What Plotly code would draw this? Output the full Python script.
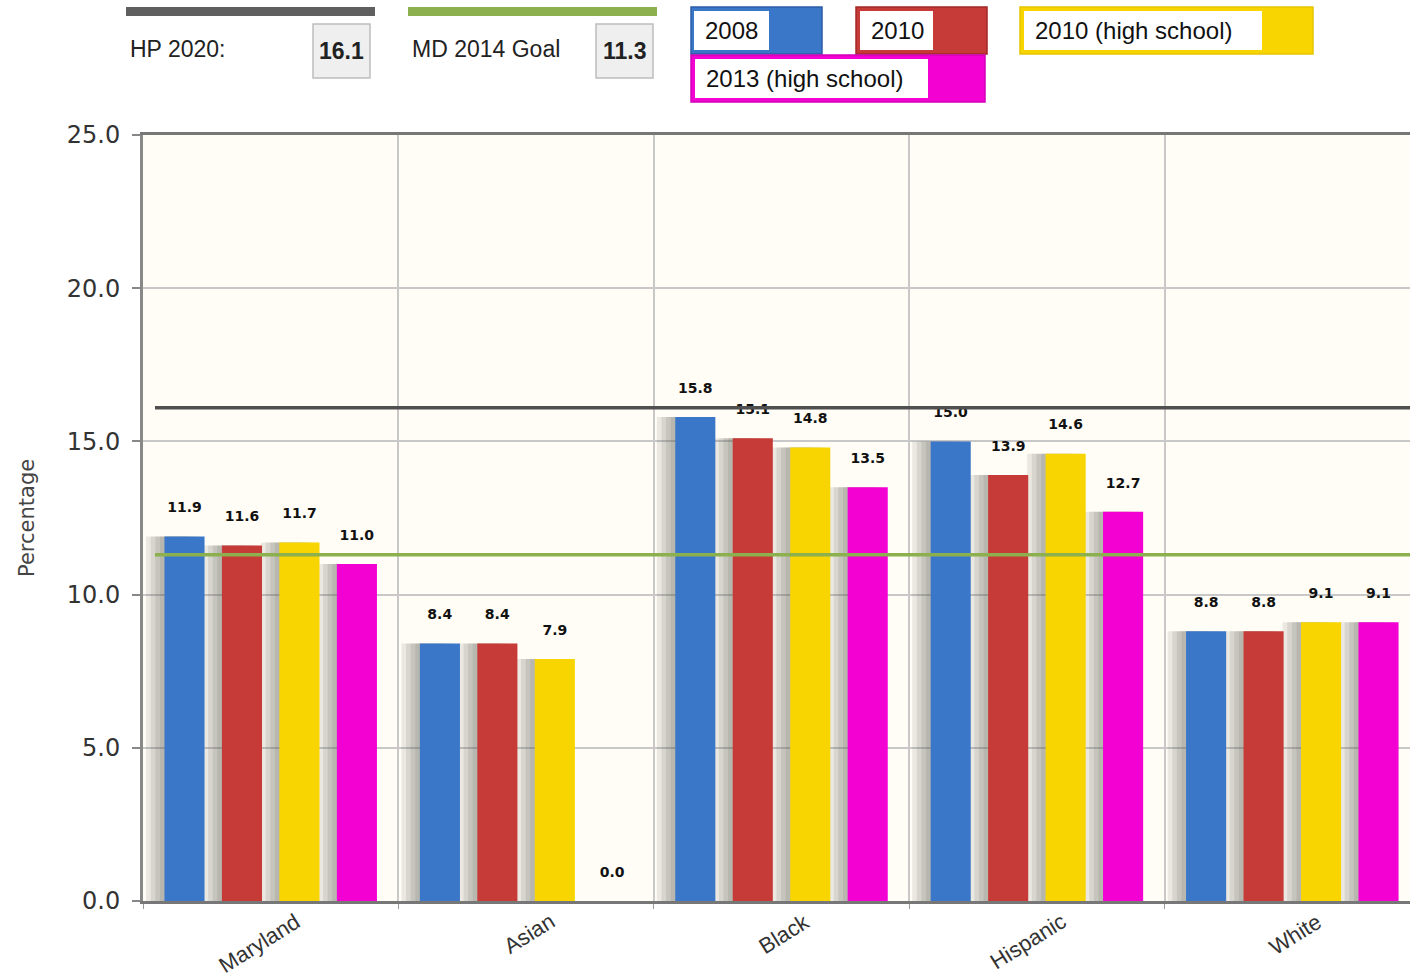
import plotly.graph_objects as go

# ---------------- data ----------------
categories = ["Maryland", "Asian", "Black", "Hispanic", "White"]
series_names = ["2008", "2010", "2010 (high school)", "2013 (high school)"]
v2008 = [11.9, 8.4, 15.8, 15.0, 8.8]
v2010 = [11.6, 8.4, 15.1, 13.9, 8.8]
v2010hs = [11.7, 7.9, 14.8, 14.6, 9.1]
v2013hs = [11.0, 0.0, 13.5, 12.7, 9.1]
series_values = [v2008, v2010, v2010hs, v2013hs]
hp2020_label = "HP 2020:"
hp2020 = 16.1
md_goal_label = "MD 2014 Goal"
md_goal = 11.3
y_ticks = [0, 5, 10, 15, 20, 25]

# ---------------- styles ----------------
colors = ["#3B77C8", "#C63A37", "#F8D500", "#F300D3"]
edge_colors = ["#2C5EA8", "#A22824", "#E8C400", "#D400B8"]
hp_color = "#4F4F4F"
goal_color = "#8BB04D"

W, H = 1410, 977
L, R, T, B = 143, 1410, 135, 901  # plot area in pixels


def px(xp):
    return (xp - L) / (R - L)


def py(yp):
    return (B - yp) / (B - T)


slot = 0.225
bar_w = 0.157

fig = go.Figure()

# shadows (behind bars)
for j, vals in enumerate(series_values):
    center = (j - 1.5) * slot
    for d in [0.018, 0.036, 0.054, 0.072]:
        fig.add_trace(go.Bar(
            x=categories, y=vals,
            offset=center - bar_w / 2 - d, width=bar_w,
            marker=dict(color="rgba(80,80,70,0.12)", line=dict(width=0)),
            hoverinfo="skip", showlegend=False,
        ))

for j, (name, vals) in enumerate(zip(series_names, series_values)):
    center = (j - 1.5) * slot
    fig.add_trace(go.Bar(
        x=categories, y=vals, name=name,
        offset=center - bar_w / 2, width=bar_w,
        marker=dict(color=colors[j], line=dict(width=0)),
        text=vals, texttemplate="%{y:.1f}<br> ", textposition="outside",
        textfont=dict(family="DejaVu Sans", size=14, color="#111111", weight="bold"),
        constraintext="none", cliponaxis=False,
        showlegend=False,
    ))

shapes = []
annotations = []

# reference lines
for val, col in [(hp2020, hp_color), (md_goal, goal_color)]:
    shapes.append(dict(type="line", xref="paper", yref="y", x0=px(155), x1=1,
                       y0=val, y1=val, line=dict(color=col, width=3.5), layer="above"))

# category labels
for c in categories:
    annotations.append(dict(x=c, y=0, xref="x", yref="y", text=c, showarrow=False,
                            textangle=-32, xanchor="right", yanchor="top",
                            xshift=36, yshift=-5,
                            font=dict(family="Liberation Sans", size=22, color="#333333")))

# y title
annotations.append(dict(x=px(27), y=0.5, xref="paper", yref="paper", text="Percentage",
                        showarrow=False, textangle=-90, xanchor="center", yanchor="middle",
                        font=dict(family="DejaVu Sans", size=21, color="#444444")))

# reference-line legend
for label, val, col, x_bar0, x_bar1, x_box0, x_box1 in [
        (hp2020_label, hp2020, "#5F5F5F", 126, 375, 313, 370),
        (md_goal_label, md_goal, goal_color, 408, 657, 596, 653)]:
    shapes.append(dict(type="rect", xref="paper", yref="paper",
                       x0=px(x_bar0), x1=px(x_bar1), y0=py(16), y1=py(7),
                       fillcolor=col, line=dict(width=0)))
    shapes.append(dict(type="rect", xref="paper", yref="paper",
                       x0=px(x_box0), x1=px(x_box1), y0=py(78), y1=py(24),
                       fillcolor="#EFEFEF", line=dict(color="#BDBDBD", width=1.5)))
    annotations.append(dict(x=px(x_bar0 + 2), y=py(49), xref="paper", yref="paper",
                            text=label, showarrow=False, xanchor="left", yanchor="middle",
                            font=dict(family="Liberation Sans", size=23, color="#222222")))
    annotations.append(dict(x=px((x_box0 + x_box1) / 2), y=py(51), xref="paper", yref="paper",
                            text="<b>%.1f</b>" % val, showarrow=False,
                            xanchor="center", yanchor="middle",
                            font=dict(family="Liberation Sans", size=23, color="#222222")))

# series legend
legend_boxes = [
    (691, 822, 7, 54, 694, 769, 11, 50),
    (856, 987, 7, 54, 860, 933, 11, 50),
    (691, 985, 55, 102, 695, 928, 59, 98),
    (1020, 1313, 7, 54, 1024, 1262, 11, 50),
]
legend_order = [0, 1, 3, 2]
for idx, (ox0, ox1, oy0, oy1, ix0, ix1, iy0, iy1) in zip(legend_order, legend_boxes):
    shapes.append(dict(type="rect", xref="paper", yref="paper",
                       x0=px(ox0), x1=px(ox1), y0=py(oy1), y1=py(oy0),
                       fillcolor=colors[idx], line=dict(color=edge_colors[idx], width=1.5)))
    shapes.append(dict(type="rect", xref="paper", yref="paper",
                       x0=px(ix0), x1=px(ix1), y0=py(iy1), y1=py(iy0),
                       fillcolor="#FFFFFF", line=dict(width=0)))
    annotations.append(dict(x=px(ix0 + 9), y=py((iy0 + iy1) / 2), xref="paper", yref="paper",
                            text=series_names[idx], showarrow=False,
                            xanchor="left", yanchor="middle",
                            font=dict(family="Liberation Sans", size=24, color="#111111")))

fig.update_layout(
    width=W, height=H,
    margin=dict(l=L, r=W - R, t=T, b=H - B, pad=0),
    barmode="overlay",
    paper_bgcolor="#FFFFFF",
    plot_bgcolor="#FFFDF5",
    showlegend=False,
    shapes=shapes,
    annotations=annotations,
    xaxis=dict(
        type="category", categoryorder="array", categoryarray=categories,
        range=[-0.5, -0.5 + (R - L) / 255.4],
        tickson="boundaries", showgrid=True, gridcolor="#C8C8C8", gridwidth=1.5,
        showticklabels=False, ticks="outside", ticklen=5, tickcolor="#999999",
        showline=True, linecolor="#777777", linewidth=2.5, mirror=True,
        zeroline=False,
    ),
    yaxis=dict(
        range=[0, 25], tickvals=y_ticks, tickformat=".1f",
        showgrid=True, gridcolor="#C8C8C8", gridwidth=1.5,
        ticks="outside", ticklen=8, tickcolor="#888888", tickwidth=2,
        ticklabelstandoff=7,
        tickfont=dict(family="DejaVu Sans", size=24, color="#333333"),
        showline=True, linecolor="#888888", linewidth=3,
        zeroline=False,
    ),
)

fig.write_html("out.html")
